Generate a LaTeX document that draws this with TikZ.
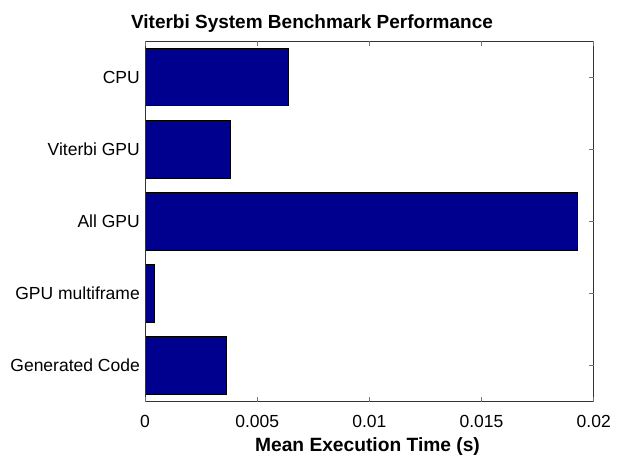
\documentclass[tikz,border=0pt]{standalone}
\usepackage{fontspec}
\setmainfont{Liberation Sans}
\definecolor{barblue}{RGB}{0,0,143}
\begin{document}
\begin{tikzpicture}[x=1pt,y=-1pt,
  bar/.style={fill=barblue,draw=black,line width=0.9pt},
  axisline/.style={draw=black!80,line width=1pt},
  tickmark/.style={draw=black!55,line width=1pt},
  ticklabel/.style={font=\fontsize{17.5}{17.5}\selectfont,inner sep=0pt},
  catlabel/.style={font=\fontsize{17.5}{17.5}\selectfont,inner sep=0pt,anchor=base east},
  titlelabel/.style={font=\bfseries\fontsize{19}{19}\selectfont,inner sep=0pt,anchor=base},
  axislabel/.style={font=\bfseries\fontsize{19.2}{19.2}\selectfont,inner sep=0pt,anchor=base}]
% canvas
\path[fill=white] (0,0) rectangle (617,458);
\pgfmathsetmacro{\xl}{145}
\pgfmathsetmacro{\xr}{593.7}
\pgfmathsetmacro{\yt}{41}
\pgfmathsetmacro{\yb}{401.7}
% pixels per millisecond
\pgfmathsetmacro{\msscale}{(\xr-\xl)/20}
\pgfmathsetmacro{\catstep}{(\yb-\yt)/5}
\coordinate (axnw) at (\xl,\yt);
\coordinate (axse) at (\xr,\yb);
% bars, one per configuration (values in ms)
\foreach \v [count=\i] in {6.41,3.79,19.26,0.415,3.61}{
  \pgfmathsetmacro{\yc}{\yt+\catstep*(\i-0.5)}
  \pgfmathsetmacro{\xe}{\xl+\v*\msscale}
  \draw[bar] (\xl,\yc-0.4*\catstep) rectangle (\xe,\yc+0.4*\catstep);
}
% axes box
\draw[axisline] (axnw) rectangle (axse);
% x ticks (top and bottom) with labels
\foreach \t/\lab [count=\k] in {0/0,5/0.005,10/0.01,15/0.015,20/0.02}{
  \pgfmathsetmacro{\xt}{\xl+\t*\msscale}
  \draw[tickmark] (\xt,\yb) -- (\xt,\yb-4.5);
  \draw[tickmark] (\xt,\yt) -- (\xt,\yt+4.5);
  \node[ticklabel,anchor=base] (xt\k) at (\xt,427) {\lab};
}
% y ticks (left and right) with category labels
\foreach \lab [count=\i] in {CPU,Viterbi GPU,All GPU,GPU multiframe,Generated Code}{
  \pgfmathsetmacro{\yc}{\yt+\catstep*(\i-0.5)}
  \draw[tickmark] (\xr,\yc) -- (\xr-4.5,\yc);
  \node[catlabel] (cat\i) at (140,\yc+6.3) {\lab};
}
% title and axis label
\node[titlelabel] (title) at (312,28.3) {Viterbi System Benchmark Performance};
\node[axislabel] (xlabel) at (367.5,451.9) {Mean Execution Time (s)};
\end{tikzpicture}
\end{document}
